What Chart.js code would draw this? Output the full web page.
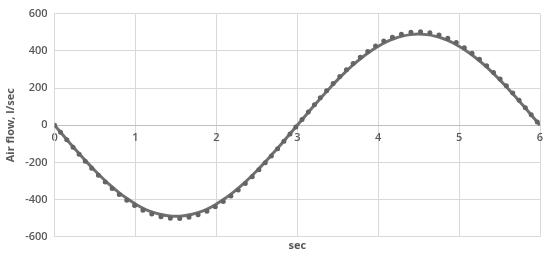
<!DOCTYPE html>
<html>
<head>
<meta charset="utf-8">
<script src="https://cdn.jsdelivr.net/npm/chart.js@4/dist/chart.umd.min.js"></script>
<style>
html,body{margin:0;padding:0;background:#fff;}
#wrap{width:550px;height:257px;position:relative;}
</style>
</head>
<body>
<div id="wrap"><canvas id="c"></canvas></div>
<script>
// time, sec
const timeSec = [0,0.1,0.2,0.3,0.4,0.5,0.6,0.7,0.8,0.9,1.0,1.1,1.2,1.3,1.4,1.5,1.6,1.7,1.8,1.9,2.0,2.1,2.2,2.3,2.4,2.5,2.6,2.7,2.8,2.9,3.0,
  3.1,3.2,3.3,3.4,3.5,3.6,3.7,3.8,3.9,4.0,4.1,4.2,4.3,4.4,4.5,4.6,4.7,4.8,4.9,5.0,5.1,5.2,5.3,5.4,5.5,5.6,5.7,5.8,5.9,6.0];
// solid line, l/sec
const flowSolid = [0,-51,-102,-151,-199,-245,-288,-328,-364,-396,-424,-448,-466,-479,-487,-490,-487,-479,-466,-448,-424,-396,-364,-328,-288,-245,-199,-151,-102,-51,0,
  51,102,151,199,245,288,328,364,396,424,448,466,479,487,490,487,479,466,448,424,396,364,328,288,245,199,151,102,51,0];
// dotted line, l/sec
const flowDotted = [0,-52,-104,-155,-204,-251,-295,-336,-373,-406,-435,-459,-477,-491,-499,-502,-499,-491,-477,-459,-435,-406,-373,-336,-295,-251,-204,-155,-104,-52,0,
  52,104,155,204,251,295,336,373,406,435,459,477,491,499,502,499,491,477,459,435,406,373,336,295,251,204,155,104,52,0];
const xTicks = [0,1,2,3,4,5,6];
const yTicks = [-600,-400,-200,0,200,400,600];

const toPts = (ys) => timeSec.map((t,i)=>({x:t,y:ys[i]}));
const textColor = '#595959';
const fontFam = "'Open Sans', 'Liberation Sans', sans-serif";

new Chart(document.getElementById('c'), {
  type: 'line',
  data: {
    datasets: [
      {
        label: 'dotted',
        data: toPts(flowDotted),
        borderColor: '#646464',
        borderWidth: 5,
        borderDash: [0, 9.5],
        borderCapStyle: 'round',
        pointRadius: 0,
        tension: 0.4,
        fill: false
      },
      {
        label: 'solid',
        data: toPts(flowSolid),
        borderColor: '#707070',
        borderWidth: 3,
        pointRadius: 0,
        tension: 0.4,
        fill: false
      }
    ]
  },
  options: {
    responsive: true,
    maintainAspectRatio: false,
    animation: false,
    layout: { padding: { top: -2, right: 10, left: 4, bottom: 3 } },
    plugins: { legend: { display: false }, tooltip: { enabled: false } },
    scales: {
      x: {
        type: 'linear',
        position: { y: 0 },
        min: 0, max: 6,
        afterBuildTicks: (s) => { s.ticks = xTicks.map(v => ({ value: v })); },
        ticks: { color: textColor, font: { family: fontFam, size: 11, weight: '600' }, padding: 6, maxRotation: 0 },
        grid: { color: '#d9d9d9', lineWidth: 1, drawTicks: false },
        border: { display: true, color: '#bfbfbf', width: 1 }
      },
      x2: {
        type: 'linear',
        position: 'bottom',
        min: 0, max: 6,
        ticks: { display: false },
        grid: { display: false, drawTicks: false },
        border: { display: false },
        title: { display: true, text: 'sec', color: textColor, font: { family: fontFam, size: 11, weight: 'bold' }, padding: { top: 2, bottom: 2 } }
      },
      y: {
        type: 'linear',
        min: -600, max: 600,
        afterBuildTicks: (s) => { s.ticks = yTicks.map(v => ({ value: v })); },
        ticks: { color: textColor, font: { family: fontFam, size: 11, weight: '600' }, padding: 7 },
        grid: { color: (ctx) => ctx.tick && ctx.tick.value === 0 ? '#bfbfbf' : '#d9d9d9', lineWidth: 1, drawTicks: false },
        border: { display: true, color: '#d9d9d9' },
        title: { display: true, text: 'Air flow, l/sec', color: textColor, font: { family: fontFam, size: 11, weight: 'bold' }, padding: { top: 0, bottom: 1 } }
      }
    }
  }
});
</script>
</body>
</html>
